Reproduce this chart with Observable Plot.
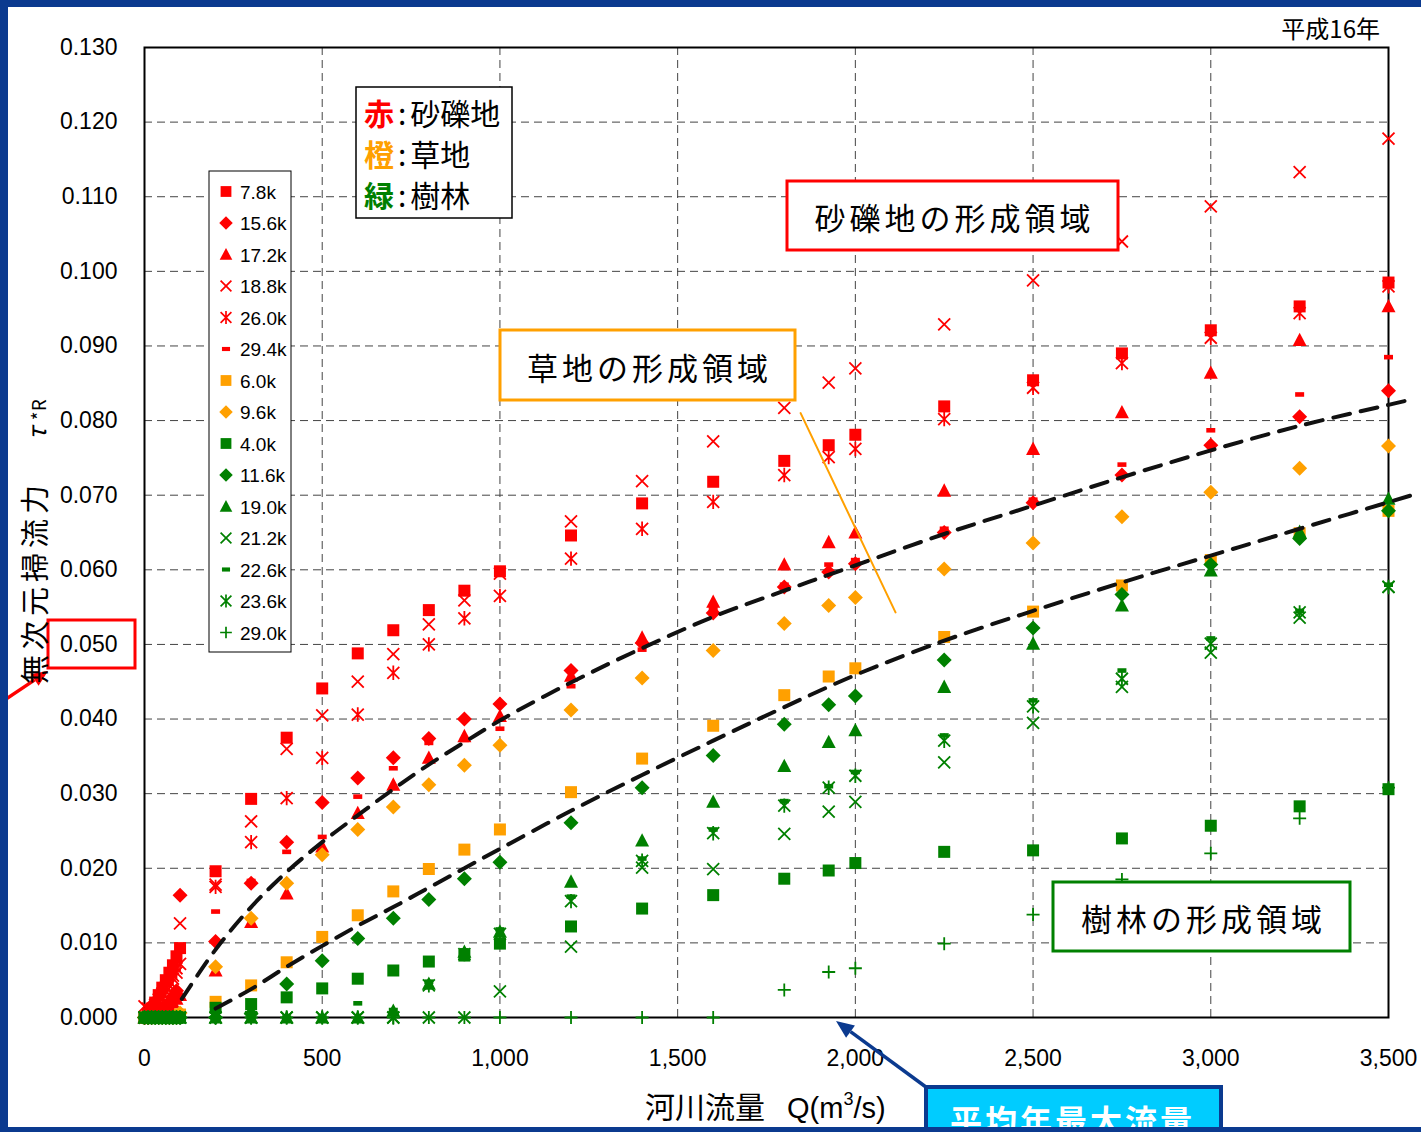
<!DOCTYPE html>
<html><head><meta charset="utf-8">
<script src="https://cdn.jsdelivr.net/npm/d3@7"></script>
<script src="https://cdn.jsdelivr.net/npm/@observablehq/plot@0.6"></script>
<style>body{margin:0;background:#fff;} svg{display:block;}</style>
</head><body><div id="chart"></div>
<script>
// ---------------- DATA ----------------
const Q = [0,10,20,30,40,50,60,70,80,90,100,200,300,400,500,600,700,800,900,1000,1200,1400,1600,1800,1925,2000,2250,2500,2750,3000,3250,3500];
const seriesNames = ["7.8k","15.6k","17.2k","18.8k","26.0k","29.4k","6.0k","9.6k","4.0k","11.6k","19.0k","21.2k","22.6k","23.6k","29.0k"];
const r78  = [0,0.0005,0.0012,0.0020,0.0030,0.0040,0.0050,0.0060,0.0070,0.0082,0.0093, 0.0196,0.0293,0.0375,0.0441,0.0488,0.0519,0.0546,0.0572,0.0598,0.0646,0.0689,0.0718,0.0746,0.0767,0.0781,0.0819,0.0854,0.0890,0.0921,0.0953,0.0985];
const r156 = [0,0,0,0.0003,0.0006,0.0010,0.0015,0.0020,0.0028,0.0036,0.0164, 0.0102,0.0180,0.0235,0.0288,0.0321,0.0348,0.0374,0.0400,0.0420,0.0465,0.0502,0.0542,0.0577,0.0597,0.0608,0.0650,0.0690,0.0727,0.0767,0.0805,0.0840];
const r172 = [0,0,0,0,0.0002,0.0005,0.0010,0.0015,0.0020,0.0025,0.0030, 0.0063,0.0128,0.0166,0.0229,0.0274,0.0312,0.0348,0.0377,0.0404,0.0458,0.0509,0.0557,0.0607,0.0637,0.0650,0.0706,0.0762,0.0811,0.0864,0.0908,0.0953];
const r188 = [0.0015,0.0012,0.0010,0.0017,0.0024,0.0032,0.0040,0.0048,0.0056,0.0066,0.0126, 0.0178,0.0263,0.0360,0.0405,0.0450,0.0487,0.0527,0.0559,0.0595,0.0665,0.0719,0.0772,0.0817,0.0851,0.0870,0.0929,0.0988,0.1040,0.1087,0.1133,0.1178];
const r260 = [0,0.0003,0.0007,0.0013,0.0020,0.0027,0.0035,0.0043,0.0052,0.0060,0.0072, 0.0175,0.0235,0.0294,0.0348,0.0406,0.0462,0.0500,0.0535,0.0565,0.0615,0.0655,0.0691,0.0727,0.0751,0.0762,0.0802,0.0844,0.0877,0.0911,0.0944,0.0980];
const r294 = [0,0,0,0,0.0003,0.0006,0.0010,0.0014,0.0018,0.0022,0.0028, 0.0142,0.0183,0.0222,0.0242,0.0296,0.0334,0.0368,0.0372,0.0387,0.0444,0.0493,0.0548,0.0580,0.0607,0.0613,0.0655,0.0694,0.0741,0.0787,0.0835,0.0885];
const o60  = [0,0,0,0,0,0,0,0,0,0,0.0004, 0.0021,0.0043,0.0074,0.0108,0.0137,0.0169,0.0199,0.0225,0.0252,0.0302,0.0347,0.0391,0.0432,0.0457,0.0468,0.0510,0.0544,0.0579,0.0613,0.0649,0.0679];
const o96  = [0,0,0,0,0,0,0,0,0,0,0.0006, 0.0068,0.0133,0.0180,0.0218,0.0252,0.0282,0.0312,0.0338,0.0365,0.0412,0.0455,0.0492,0.0528,0.0552,0.0563,0.0601,0.0636,0.0671,0.0704,0.0736,0.0766];
const g40  = [0,0,0,0,0,0,0,0,0,0,0, 0.0013,0.0018,0.0027,0.0039,0.0052,0.0063,0.0075,0.0083,0.0099,0.0122,0.0146,0.0164,0.0186,0.0197,0.0207,0.0222,0.0224,0.0240,0.0257,0.0283,0.0306];
const g116 = [0,0,0,0,0,0,0,0,0,0,0, 0,0.0005,0.0045,0.0076,0.0106,0.0133,0.0158,0.0186,0.0208,0.0261,0.0308,0.0351,0.0393,0.0419,0.0431,0.0479,0.0522,0.0567,0.0607,0.0642,0.0679];
const g190 = [0,0,0,0,0,0,0,0,0,0,0, 0,0,0,0,0,0.0009,0.0045,0.0088,0.0115,0.0182,0.0237,0.0289,0.0337,0.0369,0.0385,0.0443,0.0501,0.0552,0.0599,0.0651,0.0695];
const g212 = [0,0,0,0,0,0,0,0,0,0,0, 0,0,0,0,0,0,0,0,0.0035,0.0095,0.0201,0.0199,0.0246,0.0276,0.0289,0.0342,0.0395,0.0443,0.0489,0.0536,0.0577];
const g226 = [0,0,0,0,0,0,0,0,0,0,0, 0,0,0,0,0.0019,0.0010,0.0048,0.0090,0.0118,0.0162,0.0213,0.0252,0.0290,0.0310,0.0329,0.0378,0.0425,0.0465,0.0508,0.0545,0.0580];
const g236 = [0,0,0,0,0,0,0,0,0,0,0, 0,0,0,0,0,0,0.0043,0.0085,0.0112,0.0156,0.0210,0.0247,0.0284,0.0308,0.0324,0.0371,0.0417,0.0454,0.0501,0.0543,0.0577];
const g290 = [0,0,0,0,0,0,0,0,0,0,0, 0,0,0,0,0,0,0,0,0,0,0,0,0.0037,0.0061,0.0066,0.0099,0.0138,0.0185,0.0220,0.0267,0.0308];

// dashed trend lines
const trend1Q = [105,200,300,400,500,600,700,800,900,1000,1200,1400,1600,1800,2000,2250,2500,2750,3000,3250,3500,3570];
const trend1T = [0.0025,0.0091,0.0148,0.0195,0.0235,0.0271,0.0306,0.0339,0.0369,0.0398,0.0449,0.0495,0.0537,0.0572,0.0606,0.0648,0.0686,0.0724,0.0760,0.0793,0.0821,0.0829];
const trend2Q = [200,300,400,500,600,700,800,900,1000,1200,1400,1600,1800,2000,2250,2500,2750,3000,3250,3580];
const trend2T = [0.0012,0.0038,0.0068,0.0096,0.0123,0.0148,0.0174,0.0200,0.0226,0.0277,0.0325,0.0371,0.0416,0.0459,0.0505,0.0545,0.0583,0.0619,0.0655,0.0702];
// mean annual max discharge and critical tau
const meanMaxQ = 1937;
const critTau = 0.0508;
// grassland boundary line
const grassQ = [1846, 2113];
const grassT = [0.0810, 0.0543];
const xTicks = [0,500,1000,1500,2000,2500,3000,3500];
const yTicks = [0,0.01,0.02,0.03,0.04,0.05,0.06,0.07,0.08,0.09,0.10,0.11,0.12,0.13];

// ---------------- STYLE ----------------
const RED = "#ff0000", ORG = "#ffa000", GRN = "#008000";
function syms(k){ return {
  square:  {draw(c){const s=6*k; c.rect(-s,-s,2*s,2*s);}},
  diamond: {draw(c){const a=7.5*k; c.moveTo(0,-a); c.lineTo(a,0); c.lineTo(0,a); c.lineTo(-a,0); c.closePath();}},
  triangle:{draw(c){const a=7*k; c.moveTo(0,-a*1.05); c.lineTo(a,a*0.85); c.lineTo(-a,a*0.85); c.closePath();}},
  times:   {draw(c){const a=6*k; c.moveTo(-a,-a); c.lineTo(a,a); c.moveTo(-a,a); c.lineTo(a,-a);}},
  asterisk:{draw(c){const a=6*k; c.moveTo(-a,-a); c.lineTo(a,a); c.moveTo(-a,a); c.lineTo(a,-a); c.moveTo(0,-a*1.2); c.lineTo(0,a*1.2);}},
  dash:    {draw(c){c.rect(-4.5*k,-2.3*k,9*k,4.6*k);}},
  plus:    {draw(c){const a=6.5*k; c.moveTo(-a,0); c.lineTo(a,0); c.moveTo(0,-a); c.lineTo(0,a);}}
};}
const SYM = syms(1), LSYM = syms(0.9);
const filledShapes = new Set(["square","diamond","triangle","dash"]);
const seriesVals = [r78,r156,r172,r188,r260,r294,o60,o96,g40,g116,g190,g212,g226,g236,g290];
const seriesColor = [RED,RED,RED,RED,RED,RED,ORG,ORG,GRN,GRN,GRN,GRN,GRN,GRN,GRN];
const seriesShape = ["square","diamond","triangle","times","asterisk","dash","square","diamond","square","diamond","triangle","times","dash","asterisk","plus"];

const dotMarks = seriesVals.map((vals,i) => {
  const rows = Q.map((q,j)=>({q, t: vals[j]})).filter(d=>d.t!=null);
  const f = filledShapes.has(seriesShape[i]);
  return Plot.dot(rows, {x:"q", y:"t", symbol: SYM[seriesShape[i]], r: 6,
    fill: f ? seriesColor[i] : "none", stroke: f ? "none" : seriesColor[i], strokeWidth: f ? 0 : 1.8});
});

const fmtX = d3.format(",d"), fmtY = d3.format(".3f");
const chart = Plot.plot({
  width: 1421, height: 1132,
  marginLeft: 144, marginRight: 33, marginTop: 47, marginBottom: 115,
  style: {fontFamily: "'Liberation Sans', Arial, sans-serif", fontSize: "23px", background: "white", color: "black", overflow: "visible"},
  x: {domain: [0, 3500], ticks: 7, tickFormat: d => fmtX(d), tickSize: 0, tickPadding: 32, label: null},
  y: {domain: [0, 0.13], ticks: 13, tickFormat: d => fmtY(d), tickSize: 0, tickPadding: 27, label: null},
  marks: [
    Plot.ruleX(xTicks.slice(1,-1), {stroke: "#444", strokeWidth: 1, strokeDasharray: "8,5"}),
    Plot.ruleY(yTicks.slice(1,-1), {stroke: "#444", strokeWidth: 1, strokeDasharray: "8,5"}),
    Plot.frame({stroke: "black", strokeWidth: 2}),
    ...dotMarks,
    Plot.line([[0,critTau],[meanMaxQ,critTau],[meanMaxQ,0]], {x: d=>d[0], y: d=>d[1], stroke: RED, strokeWidth: 5, ariaLabel: "avg-line"}),
    Plot.line(trend1Q.map((q,i)=>({q, t: trend1T[i]})), {x:"q", y:"t", curve: "catmull-rom", stroke: "#111", strokeWidth: 4, strokeDasharray: "17,11"}),
    Plot.line(trend2Q.map((q,i)=>({q, t: trend2T[i]})), {x:"q", y:"t", curve: "catmull-rom", stroke: "#111", strokeWidth: 4, strokeDasharray: "17,11"}),
    Plot.line(grassQ.map((q,i)=>({q, t: grassT[i]})), {x:"q", y:"t", stroke: ORG, strokeWidth: 2})
  ]
});
document.getElementById("chart").append(chart);

// ---------------- ANNOTATIONS ----------------
const svg = d3.select(chart);
const JP = "'Noto Sans CJK JP', 'Noto Sans', sans-serif";
const LAT = "'Liberation Sans', Arial, sans-serif";

// series legend (under the red line)
const leg = svg.insert("g", 'g[aria-label="avg-line"]').attr("text-anchor","start");
leg.append("rect").attr("x",209).attr("y",171).attr("width",82).attr("height",481).attr("fill","white").attr("stroke","black").attr("stroke-width",1);
seriesNames.forEach((nm,i)=>{
  const cy = 191.5 + i*31.5;
  const f = filledShapes.has(seriesShape[i]);
  leg.append("path").attr("d", d3.symbol(LSYM[seriesShape[i]])()).attr("transform",`translate(226,${cy})`)
    .attr("fill", f?seriesColor[i]:"none").attr("stroke", f?"none":seriesColor[i]).attr("stroke-width",1.7);
  leg.append("text").attr("x",240).attr("y",cy+7).attr("text-anchor","start").attr("font-family",LAT).attr("font-size",19).attr("fill","black").text(nm);
});

const ann = svg.append("g").attr("text-anchor","start");
// colour key box
ann.append("rect").attr("x",356).attr("y",87).attr("width",156).attr("height",131).attr("fill","white").attr("stroke","black").attr("stroke-width",1.5);
[["赤",RED,"砂礫地",125],["橙",ORG,"草地",166],["緑",GRN,"樹林",207]].forEach(([k,c,lab,y])=>{
  const t = ann.append("text").attr("x",364).attr("y",y).attr("text-anchor","start").attr("font-family",JP).attr("font-size",30).attr("fill","black");
  t.append("tspan").attr("fill",c).attr("font-weight","bold").text(k);
  t.append("tspan").attr("dx",4).text(":");
  t.append("tspan").attr("dx",4).text(lab);
});
// region boxes
function regionBox(x,y,w,h,c,label){
  ann.append("rect").attr("x",x).attr("y",y).attr("width",w).attr("height",h).attr("fill","white").attr("stroke",c).attr("stroke-width",3);
  ann.append("text").attr("x",x+w/2+2).attr("y",y+h/2+1).attr("text-anchor","middle").attr("dominant-baseline","central")
    .attr("font-family",JP).attr("font-size",31).attr("letter-spacing",4).attr("fill","black").text(label);
}
regionBox(787,181,331,69,RED,"砂礫地の形成領域");
regionBox(500,330,295,70,ORG,"草地の形成領域");
regionBox(1053,882,297,69,GRN,"樹林の形成領域");

// red box around 0.050 label
ann.append("rect").attr("x",48).attr("y",620).attr("width",87).attr("height",48).attr("fill","none").attr("stroke",RED).attr("stroke-width",3);

function arrow(x1,y1,x2,y2,color,w,hl,hw){
  const dx=x2-x1, dy=y2-y1, L=Math.hypot(dx,dy), ux=dx/L, uy=dy/L;
  const bx=x2-ux*hl, by=y2-uy*hl;
  ann.append("line").attr("x1",x1).attr("y1",y1).attr("x2",bx).attr("y2",by).attr("stroke",color).attr("stroke-width",w);
  ann.append("path").attr("d",`M${x2},${y2}L${bx-uy*hw/2},${by+ux*hw/2}L${bx+uy*hw/2},${by-ux*hw/2}Z`).attr("fill",color);
}
arrow(0,703,48,671,RED,3.5,16,14);

// axis titles
const yt = ann.append("g").attr("transform","translate(46,684) rotate(-90)");
yt.append("text").attr("text-anchor","start").attr("font-family",JP).attr("font-size",29).attr("letter-spacing",5).attr("fill","black").text("無次元掃流力");
const yt2 = ann.append("g").attr("transform","translate(46,440) rotate(-90)");
const tt = yt2.append("text").attr("text-anchor","start").attr("font-family",JP).attr("fill","black");
tt.append("tspan").attr("font-size",25).attr("font-style","italic").text("τ");
tt.append("tspan").attr("font-size",19).attr("dx",7).text("*R");

const xt = ann.append("text").attr("x",645).attr("y",1118).attr("text-anchor","start").attr("fill","black");
xt.append("tspan").attr("font-family",JP).attr("font-size",30).text("河川流量");
xt.append("tspan").attr("font-family",LAT).attr("font-size",29).attr("dx",22).text("Q(m");
xt.append("tspan").attr("font-family",LAT).attr("font-size",18).attr("dy",-13).text("3");
xt.append("tspan").attr("font-family",LAT).attr("font-size",29).attr("dy",13).text("/s)");

ann.append("text").attr("x",1380).attr("y",38).attr("text-anchor","end").attr("font-family",JP).attr("font-size",24).attr("fill","black").text("平成16年");

// mean annual max discharge callout
const BLUE = "#0b3a8f";
arrow(930,1090,836,1021,BLUE,3.5,18,15);
ann.append("rect").attr("x",926).attr("y",1087).attr("width",295).attr("height",60).attr("fill","#00ccff").attr("stroke",BLUE).attr("stroke-width",4);
ann.append("text").attr("x",950).attr("y",1133).attr("text-anchor","start").attr("font-family",JP).attr("font-size",32).attr("font-weight","bold").attr("letter-spacing",3).attr("fill","white").text("平均年最大流量");

// slide frame
ann.append("rect").attr("x",0).attr("y",0).attr("width",1421).attr("height",7).attr("fill",BLUE);
ann.append("rect").attr("x",0).attr("y",0).attr("width",8).attr("height",1132).attr("fill",BLUE);
ann.append("rect").attr("x",0).attr("y",1127).attr("width",1421).attr("height",5).attr("fill",BLUE);
</script>
</body></html>
